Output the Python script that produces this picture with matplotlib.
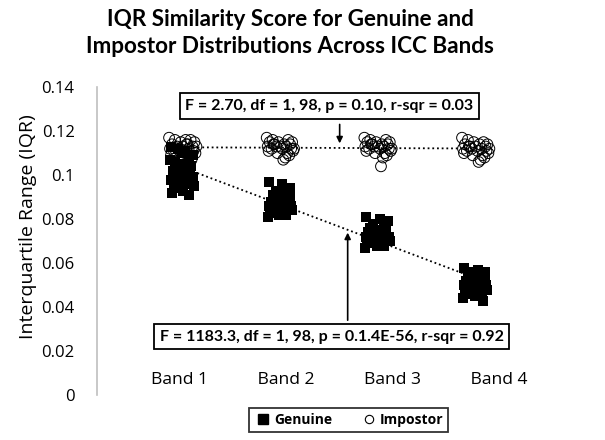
import matplotlib.pyplot as plt
import numpy as np

plt.rcParams['font.family'] = ['Open Sans', 'DejaVu Sans']

bands = ['Band 1', 'Band 2', 'Band 3', 'Band 4']

# Genuine IQR values per band
gen_b1 = [0.113, 0.111, 0.109, 0.112, 0.108, 0.106, 0.105, 0.104, 0.103, 0.102, 0.101, 0.100, 0.099,
          0.098, 0.097, 0.096, 0.095, 0.094, 0.093, 0.092, 0.091, 0.110, 0.107, 0.100, 0.096]
gen_b2 = [0.097, 0.096, 0.094, 0.093, 0.092, 0.091, 0.090, 0.089, 0.089, 0.088, 0.087, 0.087, 0.086,
          0.086, 0.085, 0.085, 0.084, 0.084, 0.083, 0.083, 0.082, 0.082, 0.081, 0.088, 0.090]
gen_b3 = [0.081, 0.080, 0.079, 0.078, 0.077, 0.076, 0.075, 0.075, 0.074, 0.074, 0.073, 0.073, 0.072,
          0.072, 0.071, 0.071, 0.070, 0.070, 0.069, 0.069, 0.068, 0.068, 0.067, 0.076, 0.072]
gen_b4 = [0.058, 0.057, 0.056, 0.056, 0.055, 0.055, 0.054, 0.053, 0.053, 0.052, 0.051, 0.051, 0.050,
          0.050, 0.049, 0.049, 0.048, 0.047, 0.047, 0.046, 0.045, 0.045, 0.044, 0.043, 0.052]

# Impostor IQR values per band
imp_b1 = [0.117, 0.116, 0.116, 0.115, 0.115, 0.114, 0.114, 0.113, 0.113, 0.113, 0.112, 0.112, 0.112,
          0.111, 0.111, 0.110, 0.110, 0.109, 0.109, 0.108, 0.107, 0.114, 0.116, 0.111, 0.113]
imp_b2 = [0.117, 0.116, 0.116, 0.115, 0.115, 0.115, 0.114, 0.114, 0.114, 0.113, 0.113, 0.113, 0.113,
          0.112, 0.112, 0.112, 0.111, 0.111, 0.110, 0.110, 0.109, 0.108, 0.107, 0.114, 0.112]
imp_b3 = [0.117, 0.116, 0.116, 0.115, 0.115, 0.115, 0.114, 0.114, 0.114, 0.113, 0.113, 0.113, 0.113,
          0.112, 0.112, 0.112, 0.111, 0.111, 0.110, 0.110, 0.109, 0.108, 0.104, 0.114, 0.112]
imp_b4 = [0.117, 0.116, 0.115, 0.115, 0.114, 0.114, 0.114, 0.113, 0.113, 0.113, 0.112, 0.112, 0.112,
          0.111, 0.111, 0.111, 0.110, 0.110, 0.109, 0.109, 0.108, 0.107, 0.106, 0.113, 0.112]

# horizontal jitter used for display
gen_jit = [-0.12, 0.02, 0.10, -0.05, 0.06, -0.08, 0.00, 0.08, -0.02, -0.10, 0.04, -0.06, 0.11,
           -0.12, 0.02, -0.04, 0.12, -0.09, 0.00, -0.11, 0.06, -0.01, -0.13, 0.07, 0.10]
imp_jit = [-0.14, -0.08, 0.08, -0.02, 0.12, -0.11, 0.04, -0.06, 0.10, 0.00, -0.13, 0.06, -0.04,
           0.11, -0.09, 0.02, 0.13, -0.12, 0.07, -0.03, 0.09, 0.05, 0.03, -0.07, 0.14]

stats_imp = 'F = 2.70, df = 1, 98, p = 0.10, r-sqr = 0.03'
stats_gen = 'F = 1183.3, df = 1, 98, p = 0.1.4E-56, r-sqr = 0.92'

gen = [gen_b1, gen_b2, gen_b3, gen_b4]
imp = [imp_b1, imp_b2, imp_b3, imp_b4]

fig = plt.figure(figsize=(6.05, 4.4), dpi=100)
ax = fig.add_axes([0.160, 0.102, 0.732, 0.700])

gx, gy, ix, iy = [], [], [], []
for i in range(4):
    gx += [i + 1 + j for j in gen_jit]
    gy += gen[i]
    ix += [i + 1 + j for j in imp_jit]
    iy += imp[i]
gx, gy, ix, iy = map(np.array, (gx, gy, ix, iy))

# linear trend lines (fit on band number)
bn = np.repeat(np.arange(1, 5), 25)
fits = []
for ys, xs in ((gy, gx), (iy, ix)):
    m, b = np.polyfit(bn, ys, 1)
    fits.append((m, b))
    xl = np.array([xs.min() + 0.1, xs.max()])
    ax.plot(xl, m * xl + b, ls=(0, (1, 1.6)), color='black', lw=1.3, zorder=1)

ax.scatter(gx, gy, marker='s', s=60, color='black', zorder=3, linewidths=0)
ax.scatter(ix, iy, marker='o', s=60, facecolors='none', edgecolors='black', linewidths=0.7, zorder=4)

ax.set_xlim(0.12, 4.655)
ax.set_ylim(0, 0.14)
ax.set_yticks(np.arange(0, 0.141, 0.02))
ax.set_yticklabels(['0', '0.02', '0.04', '0.06', '0.08', '0.1', '0.12', '0.14'])
ax.tick_params(axis='y', length=0, pad=16, labelsize=12)
ax.set_xticks([])
for s in ('top', 'right', 'bottom'):
    ax.spines[s].set_visible(False)
ax.spines['left'].set_color('#bfbfbf')
ax.spines['left'].set_linewidth(1.2)

# band labels are one spaced text line in the original
ax.text(2.6, 0.0068, '           '.join(bands), ha='center', va='center', fontsize=12.6)

box = dict(boxstyle='square,pad=0.35', fc='white', ec='black', lw=1.3)
ax.text(2.50, 0.1314, stats_imp, ha='center', va='center', fontsize=11.5,
        fontweight='bold', bbox=box, zorder=5, family='Lato')
ax.text(2.525, 0.0266, stats_gen, ha='center', va='center', fontsize=11.5,
        fontweight='bold', bbox=box, zorder=5, family='Lato')
arr = dict(arrowstyle='-|>', color='black', lw=1.2, mutation_scale=9)
xa, xb = 2.607, 2.689
ax.annotate('', xy=(xa, fits[1][0] * xa + fits[1][1] + 0.0008), xytext=(xa, 0.1243), arrowprops=arr)
ax.annotate('', xy=(xb, fits[0][0] * xb + fits[0][1]), xytext=(xb, 0.0328), arrowprops=arr)

fig.text(0.046, 0.484, 'Interquartile Range (IQR)', rotation=90, ha='center', va='center', fontsize=14)
fig.text(0.48, 0.925, 'IQR Similarity Score for Genuine and\nImpostor Distributions Across ICC Bands',
         ha='center', va='center', fontsize=16.2, fontweight='bold', linespacing=1.4, family='Lato')

h1 = plt.Line2D([], [], marker='s', ls='', color='black', markersize=7)
h2 = plt.Line2D([], [], marker='o', ls='', mfc='none', mec='black', markersize=6, mew=0.8)
leg = fig.legend([h1, h2], ['Genuine', 'Impostor'], loc='center', bbox_to_anchor=(0.576, 0.0455),
                 ncol=2, fancybox=False, edgecolor='black', prop={'weight': 'bold', 'size': 10},
                 handletextpad=0.1, columnspacing=1.9, handlelength=1.4, borderpad=0.35)
leg.get_frame().set_linewidth(1.3)

fig.savefig('out.png', dpi=100)
